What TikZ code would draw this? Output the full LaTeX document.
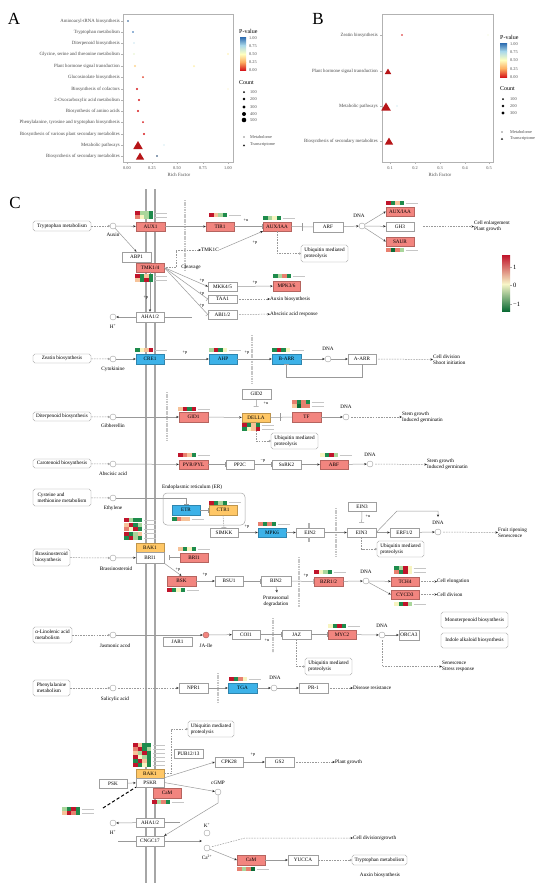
\documentclass[tikz,border=0pt]{standalone}
\usepackage{fontspec}
\setmainfont{Liberation Serif}
\usetikzlibrary{arrows.meta}
\definecolor{kred}{HTML}{F2857F}
\definecolor{kblue}{HTML}{3DB2E8}
\definecolor{korange}{HTML}{FFC766}
\definecolor{hR}{HTML}{C0142B}
\definecolor{hr}{HTML}{E8806F}
\definecolor{hp}{HTML}{F6C39A}
\definecolor{hy}{HTML}{F7F4C0}
\definecolor{hl}{HTML}{A9D69B}
\definecolor{hg}{HTML}{1E8B4C}
\definecolor{hG}{HTML}{0B6B35}
\definecolor{pR}{HTML}{D7191C}
\definecolor{pO}{HTML}{FDAE61}
\definecolor{pY}{HTML}{FFFFBF}
\definecolor{pL}{HTML}{ABD9E9}
\definecolor{pB}{HTML}{2C6BB0}
\definecolor{cR}{HTML}{C0142B}
\definecolor{cY}{HTML}{F8F6C8}
\definecolor{cG}{HTML}{0B6B35}
\newcommand\fs{\fontsize{5.2}{5.9}\selectfont}
\newcommand\fss{\fontsize{4.3}{5}\selectfont}
\newcommand\fax{\fontsize{4.8}{5.5}\selectfont}
\newcommand\bx[7]{\node[#6, minimum width={#4-#2}, minimum height={#5-#3}] (#1) at ({(#2+#4)/2},{(#3+#5)/2}) {#7};}
\newcommand\hmr[3]{\foreach \hc [count=\hi from 0] in {#3}{\fill[\hc] ({#1+\hi*4.5},#2) rectangle ++(4.5,4);}\draw[gene] ({#1+19.5},{#2+2}) -- ++(12,0);}
\newcommand\tri[4]{\fill[#4] (#1,{#2-#3}) -- ({#1+#3*0.95},{#2+#3*0.6}) -- ({#1-#3*0.95},{#2+#3*0.6}) -- cycle;}
\begin{document}
\begin{tikzpicture}[x=1pt,y=-1pt,
 every node/.style={inner sep=0pt},
 wb/.style={draw=gray!75, fill=white, font=\fs},
 rbx/.style={draw=kred!75!black, fill=kred, font=\fs},
 bbx/.style={draw=kblue!75!black, fill=kblue, font=\fs},
 obx/.style={draw=korange!75!black, fill=korange, font=\fs},
 rnd/.style={draw=gray!75, fill=white, rounded corners=1.8pt, font=\fs, align=left},
 cmp/.style={circle, draw=gray!75, fill=white, minimum size=6pt},
 lbl/.style={font=\fs},
 pl/.style={font=\fss},
 ln/.style={draw=gray!80, line width=0.5pt},
 ar/.style={ln, -{Stealth[length=2.6pt,width=2.2pt,color=black!85]}},
 inh/.style={ln, -{Bar[width=5pt]}},
 dar/.style={ln, dash pattern=on 1.6pt off 1.1pt, shorten <=2pt, -{Stealth[length=2.6pt,width=2.2pt,color=black!85]}},
 dlink/.style={ln, dash pattern=on 1.6pt off 1.1pt, -{Circle[open,length=2.2pt]}},
 mem/.style={draw=gray!70, line width=2.8pt},
 nuc/.style={draw=gray!45, line width=2.4pt, dash pattern=on 1.2pt off 0.5pt},
 gene/.style={draw=gray!45, line width=0.9pt},
 axl/.style={font=\fax, text=black!70},
 axs/.style={font=\fss, text=black!70},
 ttl/.style={font=\fontsize{6}{7}\selectfont, anchor=west}]
\useasboundingbox (0,0) rectangle (550,895);
\fill[white] (0,0) rectangle (550,895);
% ================= Panel A =================
\node[font=\fontsize{17}{17}\selectfont] (LA) at (14,19) {A};
\draw[gray!60, line width=0.5pt] (123,14) rectangle (233,162);
\foreach \y in {21,32,43,54,66,77,89,100,111,122,134,145,156} {\draw[gray!60] (121,\y) -- (123,\y);}
\node[axl, anchor=east] (ra1) at (120,21) {Aminoacyl-tRNA biosynthesis};
\node[axl, anchor=east] (ra2) at (120,32) {Tryptophan metabolism};
\node[axl, anchor=east] (ra3) at (120,43) {Diterpenoid biosynthesis};
\node[axl, anchor=east] (ra4) at (120,54) {Glycine, serine and threonine metabolism};
\node[axl, anchor=east] (ra5) at (120,66) {Plant hormone signal transduction};
\node[axl, anchor=east] (ra6) at (120,77) {Glucosinolate biosynthesis};
\node[axl, anchor=east] (ra7) at (120,89) {Biosynthesis of cofactors};
\node[axl, anchor=east] (ra8) at (120,100) {2-Oxocarboxylic acid metabolism};
\node[axl, anchor=east] (ra9) at (120,111) {Biosynthesis of amino acids};
\node[axl, anchor=east] (ra10) at (120,122) {Phenylalanine, tyrosine and tryptophan biosynthesis};
\node[axl, anchor=east] (ra11) at (120,134) {Biosynthesis of various plant secondary metabolites};
\node[axl, anchor=east] (ra12) at (120,145) {Metabolic pathways};
\node[axl, anchor=east] (ra13) at (120,156) {Biosynthesis of secondary metabolites};
\foreach \x/\t [count=\k] in {127/0.00,152/0.25,177/0.50,203/0.75,228/1.00}{\draw[gray!60] (\x,162) -- (\x,164); \node[axs] (xa\k) at (\x,168) {\t};}
\node[axl] (rfa) at (179,175) {Rich Factor};
\fill[pB!80!black] (128,21) circle (0.8);
\fill[pB] (133,32) circle (0.9);
\fill[pL!60] (134,43) circle (0.8);
\fill[pY!70!pL] (134,54) circle (0.8);
\fill[pY!80!pO] (228,54) circle (0.8);
\fill[pY!50!pO] (135,66) circle (1.2);
\fill[pY!80!pO] (194,66) circle (1.0);
\fill[pR!70!pO] (143,77) circle (1.0);
\fill[pR] (137,89) circle (1.2);
\fill[pY!80!pO] (228,89) circle (0.7);
\fill[pR] (139,100) circle (1.1);
\fill[pR] (138,111) circle (1.1);
\fill[pR] (143,122) circle (1.0);
\fill[pR] (144,134) circle (1.1);
\tri{138}{146}{5}{pR!85!black}
\fill[pL] (164,145) circle (0.7);
\tri{140}{157}{4.4}{pR!85!black}
\fill[pB!60!black] (157,156) circle (0.8);
% legend A
\node[ttl] (pva) at (239,31) {P-value};
\shade[bottom color=pL, top color=pB] (240,37) rectangle (246,45.5);
\shade[bottom color=pY, top color=pL] (240,45.5) rectangle (246,54);
\shade[bottom color=pO, top color=pY] (240,54) rectangle (246,62);
\shade[bottom color=pR, top color=pO] (240,62) rectangle (246,70);
\node[axs, anchor=west] (pa1) at (249,38) {1.00};
\node[axs, anchor=west] (pa2) at (249,46) {0.75};
\node[axs, anchor=west] (pa3) at (249,54) {0.50};
\node[axs, anchor=west] (pa4) at (249,62) {0.25};
\node[axs, anchor=west] (pa5) at (249,70) {0.00};
\node[ttl] (cta) at (239,83) {Count};
\foreach \y/\r/\t [count=\k] in {92/1.0/100,99/1.4/200,107/1.7/300,114/2.0/400,120/2.3/500}{\fill[black] (244,\y) circle (\r); \node[axs, anchor=west] (ca\k) at (250,\y) {\t};}
\fill[black] (244,137) circle (0.6);
\node[axs, anchor=west] (ma) at (250,137) {Metabolome};
\tri{244}{145.5}{1.2}{black}
\node[axs, anchor=west] (tra) at (250,145) {Transcriptome};
% ================= Panel B =================
\node[font=\fontsize{17}{17}\selectfont] (LB) at (318,19) {B};
\draw[gray!60, line width=0.5pt] (382,14) rectangle (493,162);
\foreach \y in {35,71,106,141} {\draw[gray!60] (380,\y) -- (382,\y);}
\node[axl, anchor=east] (rb1) at (378,35) {Zeatin biosynthesis};
\node[axl, anchor=east] (rb2) at (378,71) {Plant hormone signal transduction};
\node[axl, anchor=east] (rb3) at (378,106) {Metabolic pathways};
\node[axl, anchor=east] (rb4) at (378,141) {Biosynthesis of secondary metabolites};
\foreach \x/\t [count=\k] in {390/0.1,415/0.2,440/0.3,465/0.4,489/0.5}{\draw[gray!60] (\x,162) -- (\x,164); \node[axs] (xb\k) at (\x,168) {\t};}
\node[axl] (rfb) at (440,175) {Rich Factor};
\fill[pR] (402,35) circle (0.9);
\fill[pY!80!pL] (488,35) circle (0.6);
\tri{388}{72}{3.4}{pR!85!black}
\tri{386}{107.5}{5}{pR!85!black}
\fill[pL] (397,106) circle (0.7);
\tri{389}{142}{4.4}{pR!85!black}
\node[ttl] (pvb) at (500,37) {P-value};
\shade[bottom color=pL, top color=pB] (500,43) rectangle (507,51.5);
\shade[bottom color=pY, top color=pL] (500,51.5) rectangle (507,60);
\shade[bottom color=pO, top color=pY] (500,60) rectangle (507,68.5);
\shade[bottom color=pR, top color=pO] (500,68.5) rectangle (507,77);
\node[axs, anchor=west] (pb1) at (510,44) {1.00};
\node[axs, anchor=west] (pb2) at (510,52) {0.75};
\node[axs, anchor=west] (pb3) at (510,60) {0.50};
\node[axs, anchor=west] (pb4) at (510,69) {0.25};
\node[axs, anchor=west] (pb5) at (510,77) {0.00};
\node[ttl] (ctb) at (500,89) {Count};
\foreach \y/\r/\t [count=\k] in {99/1.0/100,106/1.4/200,113/1.7/300}{\fill[black] (503,\y) circle (\r); \node[axs, anchor=west] (cb\k) at (510,\y) {\t};}
\fill[black] (502,132) circle (0.6);
\node[axs, anchor=west] (mb) at (510,132) {Metabolome};
\tri{502}{139}{1.2}{black}
\node[axs, anchor=west] (trb) at (510,139) {Transcriptome};
% ================= Panel C =================
\node[font=\fontsize{17}{17}\selectfont] (LC) at (15,203) {C};
\draw[mem] (146,189) -- (146,883);
\draw[mem] (155,189) -- (155,883);
\draw[nuc] (185,200) -- (185,270);
\draw[nuc] (252,335) -- (252,383);
\draw[nuc] (167,392) -- (167,440);
\draw[nuc] (336,508) -- (336,557);
\draw[nuc] (299,557) -- (299,607);
\draw[nuc] (273,618) -- (273,652);
\draw[nuc] (218,673) -- (218,702);
% colour bar
\shade[bottom color=cY, top color=cR] (502,255) rectangle (510,284);
\shade[bottom color=cG, top color=cY] (502,284) rectangle (510,311);
\foreach \y/\t [count=\k] in {267/1,285/0,304/−1}{\draw[gray!70] (510,\y) -- (512,\y); \node[font=\fontsize{6.5}{7}\selectfont, anchor=west] (cbl\k) at (513,\y) {\t};}
% ---- Row 1 auxin
\bx{trp}{33}{221}{91}{231}{rnd}{Tryptophan metabolism}
\node[cmp] (auxin) at (113,226) {};
\node[lbl] (tAuxin) at (113,235) {Auxin};
\draw[dlink] (trp) -- (auxin);
\bx{abp1}{122}{252}{151}{262}{wb}{ABP1}
\bx{tmk14}{136}{263}{164}{272}{rbx}{TMK1/4}
\bx{aha1}{136}{312}{164}{322}{wb}{AHA1/2}
\draw[ar] (tmk14.south) -- (aha1.north);
\node[pl] (p0) at (146,298) {+p};
\bx{aux1}{136}{222}{165}{231}{rbx}{AUX1}
\draw[ar] (auxin) -- (aux1);
\draw[ar] (auxin) -- (abp1.north);
\bx{tir1}{206}{222}{234}{231}{rbx}{TIR1}
\draw[ar] (aux1) -- (tir1);
\bx{auxiaa}{263}{222}{291}{231}{rbx}{AUX/IAA}
\draw[inh] (tir1) -- (auxiaa);
\node[pl] (u1) at (246,220) {+u};
\bx{arf}{313}{222}{343}{232}{wb}{ARF}
\draw[ln] (auxiaa) -- (arf);
\draw[ln] (302,223) -- (302,231);
\node[cmp] (dna1) at (362,226) {};
\node[lbl] (tdna1) at (359,216) {DNA};
\draw[ar] (arf) -- (dna1);
\bx{auxiaa2}{386}{207}{414}{216}{rbx}{AUX/IAA}
\bx{gh3}{386}{222}{414}{231}{wb}{GH3}
\bx{saur}{386}{237}{414}{246}{rbx}{SAUR}
\draw[ar] (dna1) -- (auxiaa2.west);
\draw[ar] (dna1) -- (gh3);
\draw[ar] (dna1) -- (saur.west);
\node[lbl, anchor=west, align=left] (tce) at (474,226.5) {Cell enlargement\\Plant growth};
\draw[dar] ([xshift=7pt]gh3.east) -- (tce.west);
\bx{ub1}{301}{245}{348}{262}{rnd}{Ubiquitin mediated\\proteolysis}
\draw[dlink] (auxiaa.south) |- (ub1.west);
\node[lbl] (tmk1c) at (210,250) {TMK1C};
\node[lbl] (tclv) at (191,267.5) {Cleavage};
\draw[dar] (tmk14.east) -- (176,267.5) -- (176,250) -- (tmk1c.west);
\draw[ar] (tmk1c.east) -- (auxiaa.south west);
\node[pl] (p1) at (255,243) {+p};
\bx{mkk45}{208}{282}{237}{291}{wb}{MKK4/5}
\bx{taa1}{208}{295}{237}{303}{wb}{TAA1}
\bx{abi12}{208}{310}{237}{319}{wb}{ABI1/2}
\draw[ar] (tmk14.east) -- (mkk45.west);
\draw[inh] (tmk14.east) -- (taa1.west);
\draw[inh] (tmk14.east) -- (abi12.west);
\node[pl] (p2) at (202,281) {+p};
\node[pl] (p3) at (202,294) {+p};
\node[pl] (p4) at (202,306) {+p};
\bx{mpk36}{273}{281}{300}{291}{rbx}{MPK3/6}
\draw[ar] (mkk45) -- (mpk36);
\node[pl] (p5) at (255,283) {+p};
\node[lbl, anchor=west] (tab) at (270,299) {Auxin biosynthesis};
\node[lbl, anchor=west] (tar) at (270,314) {Abscisic acid response};
\draw[dar] (taa1) -- (tab);
\draw[dar] (abi12) -- (tar);
\node[cmp] (h1) at (113,317) {};
\node[lbl] (th1) at (113,326) {H\textsuperscript{+}};
\draw[ar] (aha1) -- (h1);
\coordinate (aha1r) at (192,317);
\draw[ln] (aha1.east) -- (aha1r);
\hmr{135}{211}{hR,hl,hl,hg}
\hmr{135}{215.2}{hr,hy,hl,hg}
\hmr{209}{213}{hR,hp,hl,hg}
\hmr{263}{216}{hg,hl,hy,hg}
\hmr{386}{201}{hR,hg,hp,hg}
\hmr{386}{248}{hr,hG,hr,hl}
\hmr{135}{274}{hR,hg,hp,hg}
\hmr{135}{278.2}{hp,hg,hR,hg}
\hmr{273}{274}{hg,hl,hr,hg}
% ---- Row 2 cytokinine
\bx{zea}{33}{354}{91}{363}{rnd}{Zeatin biosynthesis}
\node[cmp] (cyt) at (113,359) {};
\node[lbl] (tcyt) at (113,369) {Cytokinine};
\draw[dlink] (zea) -- (cyt);
\bx{cre1}{136}{354}{164}{364}{bbx}{CRE1}
\draw[ar] (cyt) -- (cre1);
\bx{ahp}{209}{354}{237}{364}{bbx}{AHP}
\draw[ar] (cre1) -- (ahp);
\node[pl] (p6) at (185,353) {+p};
\bx{barr}{272}{354}{301}{364}{bbx}{B-ARR}
\draw[ar] (ahp) -- (barr);
\node[pl] (p7) at (247,353) {+p};
\node[cmp] (dna2) at (328,359) {};
\node[lbl] (tdna2) at (328,349) {DNA};
\draw[ar] (barr) -- (dna2);
\bx{aarr}{348}{354}{376}{364}{wb}{A-ARR}
\draw[ar] (dna2) -- (aarr);
\draw[inh] (aarr.south) -- ++(0,13) -| (barr.south);
\node[lbl, anchor=west, align=left] (tcd) at (433,359.5) {Cell division\\Shoot initiation};
\draw[dar] (aarr.east) -- (tcd.west);
\hmr{135}{348}{hg,hy,hp,hR}
\hmr{209}{348}{hl,hR,hg,hy}
\hmr{272}{348}{hg,hR,hg,hy}
% ---- Row 3 gibberellin
\bx{dit}{33}{412}{91}{421}{rnd}{Diterpenoid biosynthesis}
\node[cmp] (gib) at (113,417) {};
\node[lbl] (tgib) at (113,426) {Gibberellin};
\draw[dlink] (dit) -- (gib);
\bx{gid1}{179}{412}{208}{422}{rbx}{GID1}
\draw[ar] (gib) -- (gid1);
\bx{della}{242}{413}{270}{422}{obx}{DELLA}
\draw[ar] (gid1) -- (della);
\bx{gid2}{242}{389}{271}{399}{wb}{GID2}
\draw[inh, shorten >=6pt] (gid2.south) -- (della.north);
\node[pl] (u2) at (266,403) {+u};
\bx{tf}{292}{412}{321}{422}{rbx}{TF}
\draw[ln] (della) -- (tf);
\draw[ln] (280,413) -- (280,421);
\node[cmp] (dna3) at (346,417) {};
\node[lbl] (tdna3) at (346,407) {DNA};
\draw[ar] (tf) -- (dna3);
\node[lbl, anchor=west, align=left] (tsg1) at (402,417) {Stem growth\\Induced germinatin};
\draw[dar] (dna3) -- (tsg1.west);
\bx{ub2}{271}{433}{318}{449}{rnd}{Ubiquitin mediated\\proteolysis}
\draw[dlink] (della.south) |- (ub2.west);
\hmr{178}{407}{hp,hR,hg,hR}
\hmr{242}{423}{hR,hg,hp,hg}
\hmr{242}{427.2}{hg,hy,hp,hR}
\hmr{292}{400}{hr,hg,hr,hg}
\hmr{292}{404.2}{hp,hG,hr,hr}
% ---- Row 4 abscisic acid
\bx{car}{33}{459}{91}{468}{rnd}{Carotenoid biosynthesis}
\node[cmp] (aba) at (113,464) {};
\node[lbl] (taba) at (113,474) {Abscisic acid};
\draw[dlink] (car) -- (aba);
\bx{pyr}{179}{460}{208}{469}{rbx}{PYR/PYL}
\draw[ar] (aba) -- (pyr);
\bx{pp2c}{226}{460}{254}{469}{wb}{PP2C}
\draw[inh] (pyr) -- (pp2c);
\bx{snrk2}{272}{460}{301}{469}{wb}{SnRK2}
\draw[inh] (pp2c) -- (snrk2);
\node[pl] (m1) at (263,461) {−p};
\bx{abf}{320}{460}{348}{469}{rbx}{ABF}
\draw[ar] (snrk2) -- (abf);
\node[cmp] (dna4) at (370,464) {};
\node[lbl] (tdna4) at (370,455) {DNA};
\draw[ar] (abf) -- (dna4);
\node[lbl, anchor=west, align=left] (tsg2) at (427,464.5) {Stem growth\\Induced germinatin};
\draw[dar] (dna4) -- (tsg2.west);
\hmr{178}{453}{hR,hr,hp,hg}
\hmr{320}{453}{hy,hg,hR,hl}
% ---- Row 5 ethylene
\node[lbl, anchor=west] (ter) at (162,487) {Endoplasmic reticulum (ER)};
\draw[gray!70, line width=0.5pt, rounded corners=4pt] (163,493) rectangle (245,525);
\bx{cys}{33}{489}{91}{506}{rnd}{Cysteine and\\methionine metabolism}
\node[cmp] (eth) at (113,498) {};
\node[lbl] (teth) at (113,508) {Ethylene};
\draw[dlink] (cys) -- (eth);
\bx{etr}{172}{505}{200}{515}{bbx}{ETR}
\draw[inh] (eth) -| (etr.north);
\bx{ctr1}{209}{505}{237}{515}{obx}{CTR1}
\draw[inh] (etr) -- (ctr1);
\bx{simkk}{210}{528}{238}{537}{wb}{SIMKK}
\draw[inh, dash pattern=on 1.5pt off 1pt] (ctr1.south) -- (simkk.north);
\bx{mpk6}{258}{528}{286}{537}{bbx}{MPK6}
\draw[ar] (simkk) -- (mpk6);
\node[pl] (p8) at (247,527) {+p};
\bx{ein2}{296}{528}{324}{537}{wb}{EIN2}
\draw[ar] (mpk6) -- (ein2);
\draw[gray!60, line width=2pt] (309,523) -- (309,528);
\draw[gray!60, line width=2pt] (309,537) -- (309,542);
\bx{ein3}{347}{528}{376}{537}{wb}{EIN3}
\draw[ar] (ein2) -- (ein3);
\bx{ein3t}{348}{502}{376}{511}{wb}{EIN3}
\draw[inh, shorten >=5pt] (ein3t) -- (ein3);
\node[pl] (u3) at (368,516) {+u};
\bx{erf}{390}{528}{419}{537}{wb}{ERF1/2}
\draw[ar] (ein3) -- (erf);
\node[cmp] (dna5) at (438,532) {};
\node[lbl] (tdna5) at (438,523) {DNA};
\draw[ar] (erf) -- (dna5);
\coordinate (dna5t) at (438,517);
\draw[ar] (ein3.east) -- (397,511) -- (438,511) -- (dna5t);
\bx{ub3}{377}{541}{424}{557}{rnd}{Ubiquitin mediated\\proteolysis}
\draw[dlink] (ein3.south) |- (ub3.west);
\node[lbl, anchor=west, align=left] (tfr) at (498,532.5) {Fruit ripening\\Senescence};
\draw[dar] (dna5) -- (tfr.west);
\hmr{172}{517}{hg,hr,hp,hp}
\hmr{209}{500.5}{hR,hg,hl,hg}
\hmr{258}{522}{hr,hg,hr,hg}
% ---- Row 6 brassinosteroid
\bx{bra}{33}{549}{70}{566}{rnd}{Brassinosteroid\\biosynthesis}
\node[cmp] (brs) at (113,558) {};
\node[lbl] (tbrs) at (116,569) {Brassinosteroid};
\draw[dlink] (bra) -- (brs);
\bx{bak1}{136}{543}{164}{552}{obx}{BAK1}
\bx{bri1}{136}{552}{164}{563}{wb}{BRI1}
\draw[ar] (brs) -- (bri1);
\bx{bri1r}{180}{553}{208}{562}{rbx}{BRI1}
\draw[inh, shorten >=5pt] (bri1r) -- (bri1);
\bx{bsk}{167}{576}{196}{586}{rbx}{BSK}
\draw[ar] (bri1.south east) -- (bsk.north);
\node[pl] (p9) at (178,570) {+p};
\bx{bsu1}{215}{576}{243}{586}{wb}{BSU1}
\draw[ar] (bsk) -- (bsu1);
\node[pl] (p10) at (205,575) {+p};
\bx{bin2}{261}{576}{291}{586}{wb}{BIN2}
\draw[inh] (bsu1) -- (bin2);
\coordinate (pdeg) at (277,592.5);
\draw[ar] (bin2.south) -- (pdeg);
\node[lbl, align=center] (tpd) at (276,601) {Proteasomal\\degradation};
\bx{bzr}{314}{577}{343}{586}{rbx}{BZR1/2}
\draw[inh] (bin2) -- (bzr);
\node[pl] (p11) at (306,576) {+p};
\node[cmp] (dna6) at (366,581) {};
\node[lbl] (tdna6) at (366,572) {DNA};
\draw[ar] (bzr) -- (dna6);
\bx{tch4}{391}{577}{419}{586}{rbx}{TCH4}
\bx{cycd3}{391}{590}{419}{599}{rbx}{CYCD3}
\draw[ar] (dna6) -- (tch4);
\draw[ar] (dna6) -- (cycd3.west);
\node[lbl, anchor=west] (tcel) at (437,581.5) {Cell elongation};
\node[lbl, anchor=west] (tcdv) at (437,594.5) {Cell divison};
\draw[dar] (tch4) -- (tcel);
\draw[dar] (cycd3) -- (tcdv);
\fill[white] (124,518) rectangle (143,541);
\hmr{124}{518}{hR,hl,hg,hg}
\hmr{124}{522.6}{hp,hR,hg,hl}
\hmr{124}{527.2}{hr,hy,hR,hg}
\hmr{124}{531.8}{hR,hg,hl,hp}
\hmr{124}{536.4}{hg,hR,hl,hg}
\hmr{178}{547}{hp,hg,hy,hg}
\hmr{167}{588}{hR,hg,hy,hg}
\hmr{314}{570}{hR,hy,hl,hg}
\hmr{394}{566}{hg,hl,hR,hy}
\hmr{394}{570.2}{hr,hg,hR,hy}
\hmr{394}{602}{hy,hg,hR,hl}
% ---- Row 7 jasmonic acid
\bx{lin}{33}{627}{72}{643}{rnd}{α-Linolenic acid\\metabolism}
\node[cmp] (ja) at (113,635) {};
\node[lbl] (tja) at (115,646) {Jasmonic acod};
\draw[dlink] (lin) -- (ja);
\bx{jar1}{163}{637}{192}{646}{wb}{JAR1}
\node[circle, draw=kred!70!black, fill=kred, minimum size=6pt] (jaile) at (206,635) {};
\node[lbl] (tjaile) at (206,646) {JA-Ile};
\draw[ar] (ja) -- (jaile);
\bx{coi1}{232}{630}{260}{639}{wb}{COI1}
\draw[ar] (jaile) -- (coi1);
\bx{jaz}{282}{630}{311}{639}{wb}{JAZ}
\draw[inh] (coi1) -- (jaz);
\node[pl] (u4) at (267,640) {+u};
\bx{myc2}{328}{630}{356}{639}{rbx}{MYC2}
\draw[inh] (jaz) -- (myc2);
\node[cmp] (dna7) at (382,635) {};
\node[lbl] (tdna7) at (382,626) {DNA};
\draw[ar] (myc2) -- (dna7);
\bx{orca}{399}{630}{419}{640}{wb}{ORCA3}
\draw[ar] (dna7) -- (orca);
\bx{mono}{441}{612}{508}{628}{rnd}{Monoterpenoid biosynthesis}
\bx{indo}{441}{633}{508}{648}{rnd}{Indole alkaloid biosynthesis}
\bx{ub4}{305}{658}{352}{675}{rnd}{Ubiquitin mediated\\proteolysis}
\draw[dlink] (jaz.south) |- (ub4.west);
\node[lbl, anchor=west, align=left] (tss) at (442,666.5) {Senescence\\Stress response};
\draw[dar] (dna7.south) |- (tss.west);
\hmr{328}{624}{hy,hg,hR,hg}
% ---- Row 8 salicylic acid
\bx{phe}{33}{680}{70}{696}{rnd}{Phenylalanine\\metabolism}
\node[cmp] (sa) at (113,688) {};
\node[lbl] (tsa) at (115,699) {Salicylic acid};
\draw[dlink] (phe) -- (sa);
\bx{npr1}{179}{683}{208}{693}{wb}{NPR1}
\draw[dar] (sa) -- (npr1);
\bx{tga}{228}{683}{257}{693}{bbx}{TGA}
\draw[ar] (npr1) -- (tga);
\node[cmp] (dna8) at (274,688) {};
\node[lbl] (tdna8) at (275,678) {DNA};
\draw[ar] (tga) -- (dna8);
\bx{pr1}{299}{683}{328}{693}{wb}{PR-1}
\draw[ar] (dna8) -- (pr1);
\node[lbl, anchor=west] (tdr) at (353,688) {Disease resistance};
\draw[dar] (pr1) -- (tdr);
\hmr{229}{677}{hR,hg,hr,hy}
% ---- bottom part
\bx{ub5}{188}{721}{234}{737}{rnd}{Ubiquitin mediated\\proteolysis}
\bx{bak1b}{136}{769}{164}{778}{obx}{BAK1}
\bx{pskr}{136}{778}{164}{787}{wb}{PSKR}
\bx{pub}{174}{749}{203}{758}{wb}{PUB12/13}
\draw[dlink] (bak1b.east) -- (171,773.5) |- (ub5.west);
\bx{psk}{99}{779}{127}{788}{wb}{PSK}
\draw[ar] (psk) -- (pskr);
\bx{cpk}{215}{757}{243}{767}{wb}{CPK28}
\draw[ar] (pskr.north east) -- (cpk.west);
\bx{gs2}{265}{757}{294}{767}{wb}{GS2}
\draw[ar] (cpk) -- (gs2);
\node[pl] (p12) at (253,755) {+p};
\node[lbl, anchor=west] (tpg) at (335,762) {Plant growth};
\draw[dar] (gs2) -- (tpg);
\node[cmp] (cgmp) at (218,792) {};
\node[lbl] (tcgmp) at (218,783) {cGMP};
\draw[ar] (pskr.east) -- (cgmp);
\bx{cam1}{153}{788}{181}{798}{rbx}{CaM}
\coordinate (hmL) at (103,808);
\draw[black, line width=1pt, dash pattern=on 3.2pt off 2.2pt] (hmL) -- (pskr.south west);
\bx{aha2}{136}{818}{164}{827}{wb}{AHA1/2}
\node[cmp] (h2) at (113,823) {};
\node[lbl] (th2) at (113,832) {H\textsuperscript{+}};
\draw[ar] (aha2) -- (h2);
\coordinate (aha2r) at (180,822.5);
\draw[ln] (aha2.east) -- (aha2r);
\bx{cngc}{136}{836}{164}{846}{wb}{CNGC17}
\draw[ar] (cgmp.south) -- (218,803) -- (cngc.north east);
\coordinate (cnl) at (118,841);
\coordinate (cnr) at (202,841);
\draw[ln] (cnl) -- (cngc.west);
\draw[ar] (cngc.east) -- (cnr);
\node[cmp] (kp) at (207,833) {};
\node[lbl] (tkp) at (207,825) {K\textsuperscript{+}};
\node[cmp] (ca) at (207,848) {};
\node[lbl] (tca) at (207,857) {Ca\textsuperscript{2+}};
\node[lbl, anchor=west] (tcdg) at (353,838) {Cell division/growth};
\draw[dar] (ca) -- (245,838) -- (tcdg.west);
\bx{cam2}{237}{855}{265}{865}{rbx}{CaM}
\draw[ar] (ca) -- (cam2.west);
\bx{yucca}{288}{855}{318}{865}{wb}{YUCCA}
\draw[ar] (cam2) -- (yucca);
\bx{trp2}{352}{855}{407}{865}{rnd}{Tryptophan metabolism}
\draw[dlink] (yucca) -- (trp2);
\node[lbl] (tab2) at (380,875) {Auxin biosynthesis};
\fill[white] (133,743) rectangle (152,767);
\hmr{133}{743}{hR,hp,hg,hg}
\hmr{133}{747}{hr,hR,hg,hl}
\hmr{133}{751}{hp,hl,hR,hg}
\hmr{133}{755}{hR,hy,hl,hg}
\hmr{133}{759}{hg,hR,hp,hg}
\hmr{133}{763}{hR,hg,hy,hg}
\hmr{152}{800}{hR,hl,hr,hg}
\hmr{62}{807}{hl,hg,hR,hg}
\hmr{62}{811.2}{hp,hR,hr,hg}
\hmr{237}{867}{hr,hl,hr,hG}
\end{tikzpicture}
\end{document}
